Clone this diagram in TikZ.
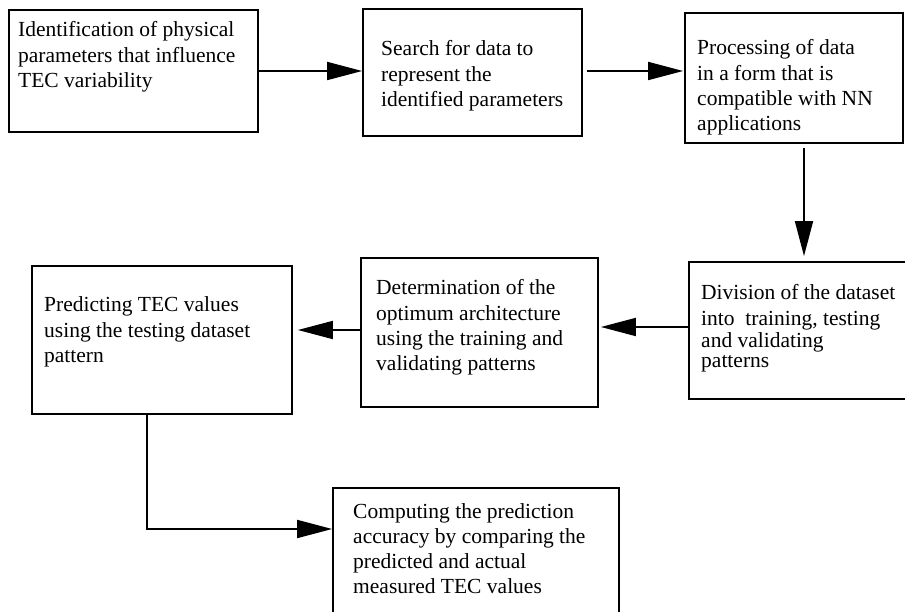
\documentclass[tikz,border=0pt]{standalone}
\usepackage{fontspec}
\setmainfont{Liberation Serif}
\usetikzlibrary{arrows.meta}
\begin{document}
\begin{tikzpicture}[x=1pt,y=-1pt,
  procbox/.style={draw, line width=1.8pt, inner sep=0pt, rectangle},
  boxtext/.style={anchor=base west, inner sep=0pt, font=\fontsize{21.5}{25.3}\selectfont},
  arr/.style={line width=1.8pt, -{Triangle[length=35pt,width=18pt]}}]
\useasboundingbox (0,0) rectangle (905,612);
\fill[white] (0,0) rectangle (905,612);
\clip (0,0) rectangle (905,612);

% boxes
\node[procbox, minimum width=249pt, minimum height=122pt] (b1) at (133.5,71) {};
\node[procbox, minimum width=219pt, minimum height=127pt] (b2) at (472.5,72.5) {};
\node[procbox, minimum width=218pt, minimum height=130pt] (b3) at (794,78) {};
\node[procbox, minimum width=230pt, minimum height=137pt] (b4) at (804,330.5) {};
\node[procbox, minimum width=237pt, minimum height=149pt] (b5) at (479.5,332.5) {};
\node[procbox, minimum width=260pt, minimum height=148pt] (b6) at (162,340) {};
\node[procbox, minimum width=286pt, minimum height=137pt] (b7) at (476,556.5) {};

% texts
\node[boxtext] (t1) at (18,37) {\begin{tabular}[t]{@{}l@{}}Identification of physical\\parameters that influence\\TEC variability\end{tabular}};
\node[boxtext] (t2) at (381,56) {\begin{tabular}[t]{@{}l@{}}Search for data to\\represent the\\identified parameters\end{tabular}};
\node[boxtext] (t3) at (697,55) {\begin{tabular}[t]{@{}l@{}}Processing of data\\in a form that is\\compatible with NN\\applications\end{tabular}};
\node[boxtext] (t4) at (701,300) {\begin{tabular}[t]{@{}l@{}}Division of the dataset\\into~ training, testing\\[-3pt]and validating\\[-5pt]patterns\end{tabular}};
\node[boxtext] (t5) at (376,295) {\begin{tabular}[t]{@{}l@{}}Determination of the\\optimum architecture\\using the training and\\validating patterns\end{tabular}};
\node[boxtext] (t6) at (44,312) {\begin{tabular}[t]{@{}l@{}}Predicting TEC values\\using the testing dataset\\pattern\end{tabular}};
\node[boxtext] (t7) at (353,518) {\begin{tabular}[t]{@{}l@{}}Computing the prediction\\accuracy by comparing the\\predicted and actual\\measured TEC values\end{tabular}};

% connectors
\draw[arr] (b1.east |- 0,71) -- (b2.west |- 0,71);
\draw[arr, shorten <=4pt, shorten >=1pt] (b2.east |- 0,71) -- (b3.west |- 0,71);
\draw[arr, shorten <=4pt, shorten >=5pt] (b3.south -| b4.north) -- (b4.north);
\draw[arr, shorten >=2pt] (b4.west |- 0,327) -- (b5.east |- 0,327);
\draw[arr, shorten >=5pt] (b5.west |- 0,330) -- (b6.east |- 0,330);
\draw[arr] (b6.south -| 147,0) |- (b7.west |- 0,529);
\end{tikzpicture}
\end{document}
